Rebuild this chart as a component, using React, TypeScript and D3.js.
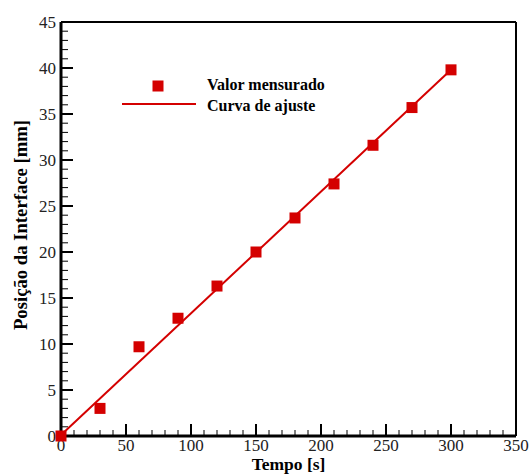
import React from "react";
import * as d3 from "d3";

const timeS = [0, 30, 60, 90, 120, 150, 180, 210, 240, 270, 300];
const positionMm = [0, 3.0, 9.7, 12.8, 16.3, 20.0, 23.7, 27.4, 31.6, 35.7, 39.8];
const fitX = [0, 300];
const fitY = [0.1, 39.8];
const xTicks = [0, 50, 100, 150, 200, 250, 300, 350];
const yTicks = [0, 5, 10, 15, 20, 25, 30, 35, 40, 45];
const legendLabels = ["Valor mensurado", "Curva de ajuste"];

const RED = "#d40000";
const FONT = "'Liberation Serif', 'Times New Roman', serif";

export default function App() {
  const W = 529, H = 476;
  const x = d3.scaleLinear().domain([0, 350]).range([61, 516]);
  const y = d3.scaleLinear().domain([0, 45]).range([436, 22]);
  const xMinor = d3.range(0, 351, 10).filter((v) => v % 50 !== 0);
  const yMinor = d3.range(0, 46, 1).filter((v) => v % 5 !== 0);
  const line = d3
    .line<number>()
    .x((_, i) => x(fitX[i]))
    .y((d) => y(d));
  const ms = 11;
  return (
    <svg width={W} height={H} style={{ position: "absolute", left: 0, top: 0 }}>
      <rect width={W} height={H} fill="#fff" />
      {/* frame */}
      <line x1={x(0)} x2={x(350)} y1={y(45)} y2={y(45)} stroke="#000" strokeWidth={2} />
      <line x1={x(350)} x2={x(350)} y1={y(45)} y2={y(0)} stroke="#000" strokeWidth={2} />
      {/* x ticks */}
      {xTicks.map((t) => (
        <line key={"xt" + t} x1={x(t)} x2={x(t)} y1={y(0)} y2={y(0) - 12} stroke="#000" strokeWidth={2} />
      ))}
      {xMinor.map((t) => (
        <line key={"xm" + t} x1={x(t)} x2={x(t)} y1={y(0)} y2={y(0) - 6} stroke="#000" strokeWidth={1} />
      ))}
      {yTicks.map((t) => (
        <line key={"yt" + t} x1={x(0)} x2={x(0) + 12} y1={y(t)} y2={y(t)} stroke="#000" strokeWidth={2} />
      ))}
      {yMinor.map((t) => (
        <line key={"ym" + t} x1={x(0)} x2={x(0) + 7} y1={y(t)} y2={y(t)} stroke="#000" strokeWidth={1} />
      ))}
      <line x1={x(0)} x2={x(350)} y1={y(0)} y2={y(0)} stroke="#000" strokeWidth={3} />
      <line x1={x(0)} x2={x(0)} y1={y(45)} y2={y(0)} stroke="#000" strokeWidth={3} />
      {/* tick labels */}
      {xTicks.map((t) => (
        <text key={"xl" + t} x={x(t)} y={450.5} textAnchor="middle" fontFamily={FONT} fontSize={17} fill="#222">
          {t}
        </text>
      ))}
      {yTicks.map((t) => (
        <text key={"yl" + t} x={56} y={y(t) + 6} textAnchor="end" fontFamily={FONT} fontSize={17} fill="#222">
          {t}
        </text>
      ))}
      {/* fit line */}
      <path d={line(fitY) || ""} fill="none" stroke={RED} strokeWidth={2} />
      {/* markers */}
      {timeS.map((t, i) => (
        <rect key={"m" + i} x={x(t) - ms / 2} y={y(positionMm[i]) - ms / 2} width={ms} height={ms} fill={RED} />
      ))}
      {/* legend */}
      <rect x={158 - ms / 2} y={86 - ms / 2} width={ms} height={ms} fill={RED} />
      <line x1={122} x2={196} y1={104} y2={104} stroke={RED} strokeWidth={2} />
      <text x={207} y={90} fontFamily={FONT} fontWeight="bold" fontSize={16} fill="#000">
        {legendLabels[0]}
      </text>
      <text x={207} y={110.5} fontFamily={FONT} fontWeight="bold" fontSize={16} fill="#000">
        {legendLabels[1]}
      </text>
      {/* axis titles */}
      <text x={288.5} y={470} textAnchor="middle" fontFamily={FONT} fontWeight="bold" fontSize={17.5} fill="#000">
        Tempo [s]
      </text>
      <text
        transform={`translate(27, 225) rotate(-90)`}
        textAnchor="middle"
        fontFamily={FONT}
        fontWeight="bold"
        fontSize={18.7}
        fill="#000"
      >
        Posição da Interface [mm]
      </text>
    </svg>
  );
}
